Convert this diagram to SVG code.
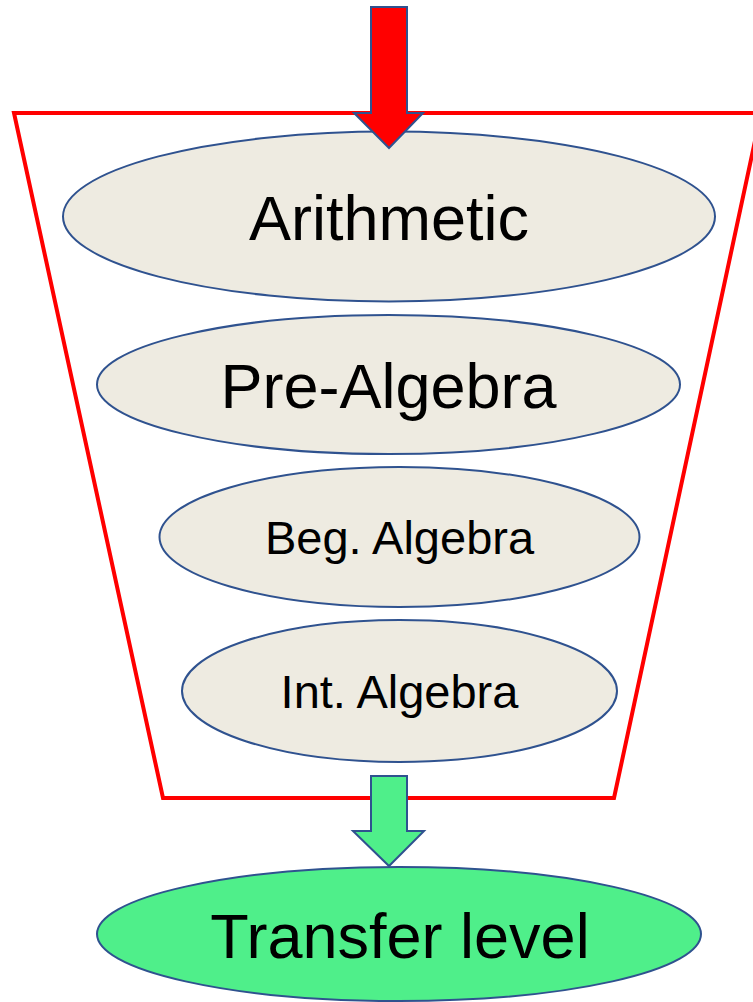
<svg xmlns="http://www.w3.org/2000/svg" width="753" height="1002" viewBox="0 0 753 1002">
<style>
.lvl{fill:#EEEBE1;stroke:#2F528F;stroke-width:2}
.t{font-family:"Liberation Sans",Arial,sans-serif;fill:#000;text-anchor:middle}
.arrow{stroke:#2F528F;stroke-width:2;stroke-linejoin:miter}
</style>
<rect width="753" height="1002" fill="#fff"/>
<g id="funnel">
<polygon points="14,113 761,113 614,798 163,798" fill="none" stroke="#FF0000" stroke-width="4"/>
</g>
<g id="arithmetic">
<ellipse class="lvl" cx="389" cy="216.5" rx="326" ry="85"/>
<text class="t" x="389" y="240" font-size="63">Arithmetic</text>
</g>
<g id="prealgebra">
<ellipse class="lvl" cx="388.5" cy="384.5" rx="291.5" ry="69.5"/>
<text class="t" x="388.5" y="408" font-size="63">Pre-Algebra</text>
</g>
<g id="begalgebra">
<ellipse class="lvl" cx="399.5" cy="537" rx="240" ry="70"/>
<text class="t" x="399.5" y="554" font-size="47">Beg. Algebra</text>
</g>
<g id="intalgebra">
<ellipse class="lvl" cx="399.5" cy="691" rx="217.5" ry="71"/>
<text class="t" x="399.5" y="708" font-size="47">Int. Algebra</text>
</g>
<g id="transfer">
<ellipse cx="399" cy="934" rx="302" ry="67" fill="#4FEF8A" stroke="#2F528F" stroke-width="2"/>
<text class="t" x="400" y="958" font-size="63">Transfer level</text>
</g>
<g id="connectors">
<polygon class="arrow" fill="#FF0000" points="371,7 407,7 407,113 423,113 389,148 354,113 371,113"/>
<polygon class="arrow" fill="#4FEF8A" points="371,776 407,776 407,831 424,831 389,866 353,831 371,831"/>
</g>
</svg>
